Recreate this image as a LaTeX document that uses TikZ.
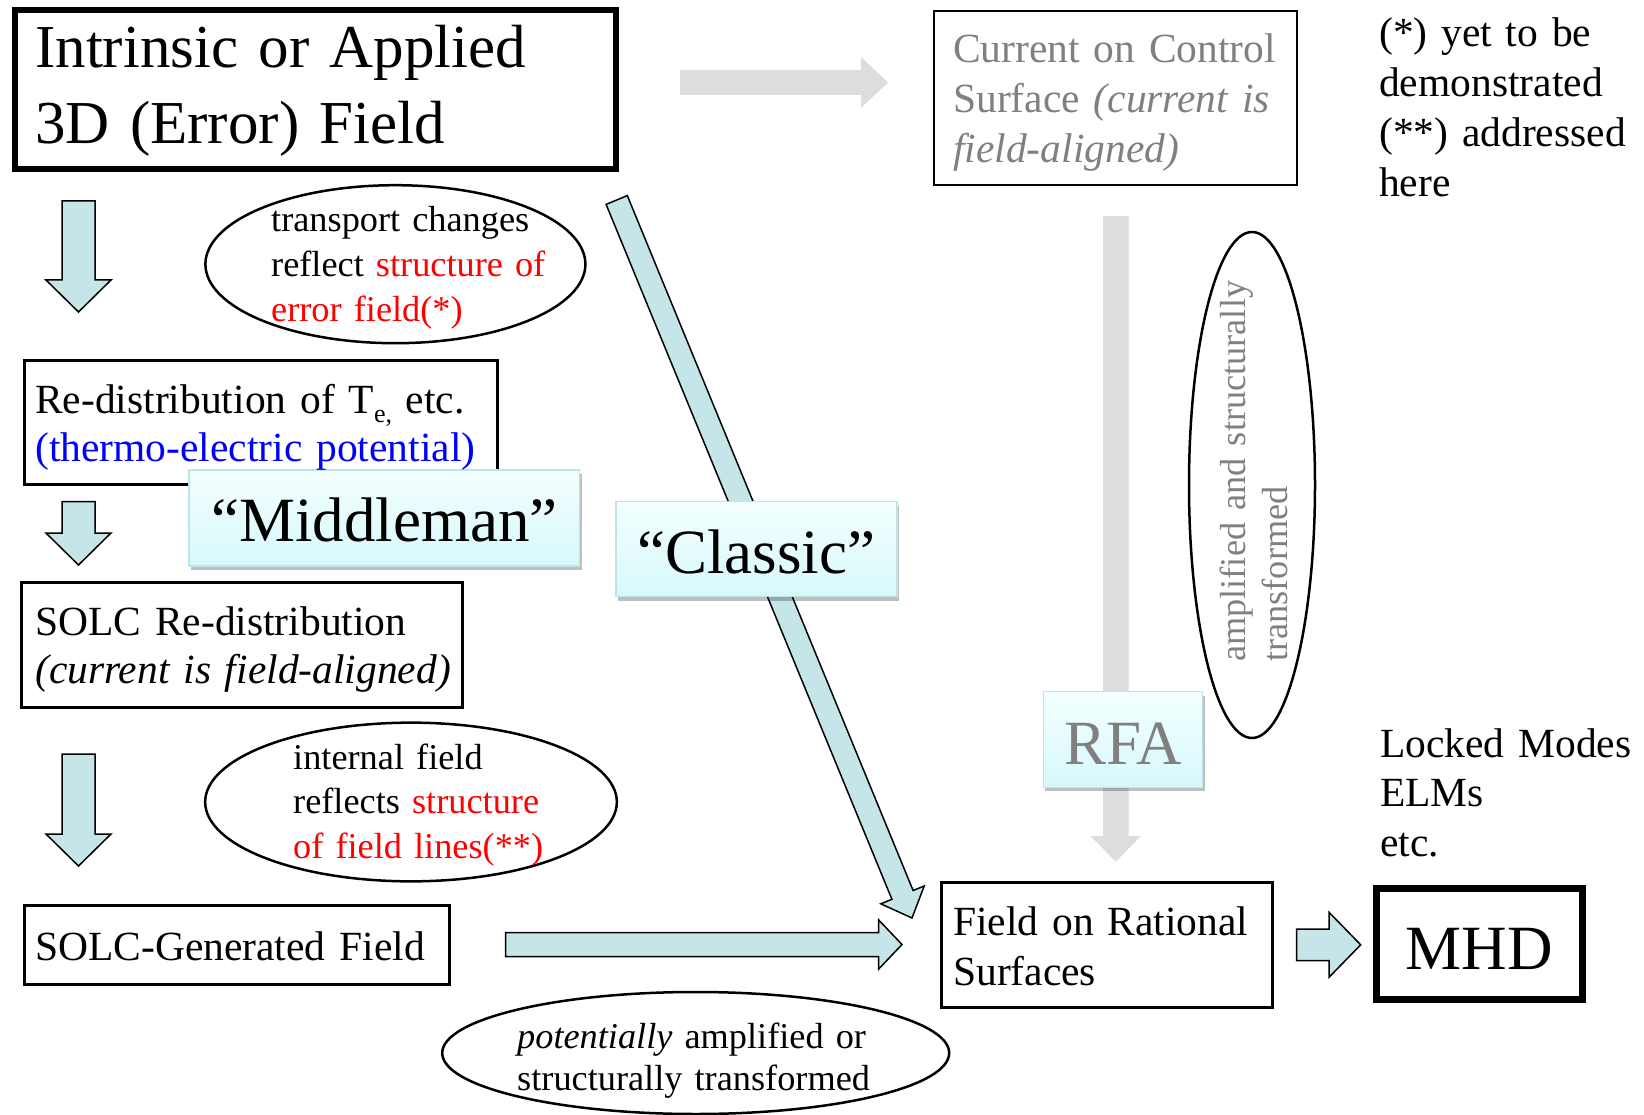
\documentclass[tikz,border=0pt]{standalone}
\usepackage{fontspec}
\setmainfont{Liberation Serif}
\usetikzlibrary{shapes.geometric,shadows}
\definecolor{arrblue}{RGB}{197,229,232}
\definecolor{arrgray}{RGB}{221,221,221}
\definecolor{txtgray}{RGB}{128,128,128}
\definecolor{lbltop}{RGB}{244,255,255}
\definecolor{lblbot}{RGB}{214,248,251}
\definecolor{lblborder}{RGB}{190,228,232}
\definecolor{redtxt}{RGB}{255,0,0}
\definecolor{bluetxt}{RGB}{0,0,255}
\newcommand\fsBox{\fontsize{41.5}{50}\selectfont}
\newcommand\fsBoxB{\fontsize{41.5}{48}\selectfont}
\newcommand\fsEll{\fontsize{36.3}{45}\selectfont}
\newcommand\fsBig{\fontsize{61}{76}\selectfont}
\newcommand\fsLbl{\fontsize{63}{72}\selectfont}
\begin{document}
\begin{tikzpicture}[x=1pt,y=-1pt,
  txt/.style={inner sep=0pt, anchor=base west, align=left, text width=600pt},
  box/.style={draw, line width=3pt, inner sep=0pt, minimum width=#1},
  ell/.style={draw, ellipse, line width=2.5pt, inner sep=0pt},
  blk/.style={fill=arrblue, draw=black, line width=1.5pt, line join=miter},
  gblk/.style={fill=arrgray, draw=none},
  lbl/.style={draw=lblborder, line width=1.5pt, top color=lbltop, bottom color=lblbot,
    inner sep=0pt, drop shadow={shadow xshift=2pt, shadow yshift=-4pt, fill=black, opacity=0.25}},
  lbltxt/.style={inner sep=0pt, anchor=base, font=\fsLbl}
]
\useasboundingbox (0,0) rectangle (1644,1115);

% gray arrows
\path[gblk] (680,70) -- (861,70) -- (861,57) -- (888,82.5) -- (861,108) -- (861,95) -- (680,95) -- cycle;
\path[gblk] (1103,216) -- (1128.5,216) -- (1128.5,836) -- (1141,836) -- (1115.75,861.7) -- (1090.5,836) -- (1103,836) -- cycle;

% boxes
\node[box=601pt, line width=6pt, minimum height=159pt] (title) at (315.5,89.5) {};
\node[box=362.6pt, line width=2.5pt, minimum height=173.6pt] (ctrl) at (1115.5,98) {};
\node[box=473pt, minimum height=124pt] (redist) at (260.5,422) {};
\node[box=441.5pt, minimum height=125pt] (solcr) at (241.8,644.5) {};
\node[box=425.5pt, minimum height=78.5pt] (solcg) at (236.8,944.8) {};
\node[box=330.5pt, minimum height=125pt] (frs) at (1107.2,944.5) {};
\node[box=206pt, line width=7pt, minimum height=111.3pt] (mhd) at (1479.2,944.2) {};

% ellipses
\node[ell, minimum width=380pt, minimum height=158pt] (e1) at (395.4,264.2) {};
\node[ell, minimum width=411.7pt, minimum height=158.7pt] (e2) at (411,802) {};
\node[ell, minimum width=507pt, minimum height=122pt] (e3) at (695.7,1053) {};
\node[ell, minimum width=126pt, minimum height=506pt] (e4) at (1252,485) {};

% blue block arrows
\path[blk] (62,201) -- (95,201) -- (95,280) -- (111,280) -- (78.5,312) -- (46,280) -- (62,280) -- cycle;
\path[blk] (62,501.7) -- (95,501.7) -- (95,533) -- (111,533) -- (78.5,565) -- (46,533) -- (62,533) -- cycle;
\path[blk] (62,754) -- (95,754) -- (95,834) -- (111,834) -- (78.5,866) -- (46,834) -- (62,834) -- cycle;
\path[blk] (505.5,932.5) -- (878.7,932.5) -- (878.7,920) -- (902,944.5) -- (878.7,969) -- (878.7,956.5) -- (505.5,956.5) -- cycle;
\path[blk] (1296.7,929) -- (1329,929) -- (1329,912.3) -- (1360.7,944.8) -- (1329,977.3) -- (1329,960.7) -- (1296.7,960.7) -- cycle;
\path[blk] (606.1,204.4) -- (627.3,195.6) -- (913.1,890.5) -- (924.2,886.0) -- (912,918) -- (880.8,903.8) -- (891.9,899.3) -- cycle;

% labels
\node[lbl, minimum width=390.6pt, minimum height=96pt] (mid) at (384.3,518) {};
\node[lbl, minimum width=281.3pt, minimum height=95pt] (cls) at (756.4,549.2) {};
\node[lbl, minimum width=159.4pt, minimum height=95.6pt] (rfa) at (1123,739.5) {};
\node[lbltxt] (midt) at (384.3,541.7) {“Middleman”};
\node[lbltxt] (clst) at (756.4,573.3) {“Classic”};
\node[lbltxt, text=txtgray] (rfat) at (1123,764) {RFA};

% texts
\node[txt, font=\fsBig] (titlet) at (35,68) {Intrinsic or Applied\\3D (Error) Field};
\node[txt, font=\fsBox, text=txtgray] (ctrlt) at (953,63) {Current on Control\\Surface \textit{(current is}\\\textit{field-aligned)}};
\node[txt, font=\fsBox] (notes) at (1379,47) {(*) yet to be\\demonstrated\\(**) addressed\\here};
\node[txt, font=\fsEll] (e1t) at (271,232) {transport changes\\reflect \textcolor{redtxt}{structure of}\\\textcolor{redtxt}{error field(*)}};
\node[txt, font=\fsBoxB] (redistt) at (35,413) {Re-distribution of T\raisebox{-9pt}{\fontsize{26}{26}\selectfont e,} etc.\\\textcolor{bluetxt}{(thermo-electric potential)}};
\node[txt, font=\fsBoxB] (solcrt) at (35,635) {SOLC Re-distribution\\\textit{(current is field-aligned)}};
\node[txt, font=\fontsize{36.3}{44.5}\selectfont] (e2t) at (293,769) {internal field\\reflects \textcolor{redtxt}{structure}\\\textcolor{redtxt}{of field lines(**)}};
\node[txt, font=\fsBox] (solcgt) at (35,960) {SOLC-Generated Field};
\node[txt, font=\fontsize{36.3}{42.5}\selectfont] (e3t) at (517,1048) {\textit{potentially} amplified or\\structurally transformed};
\node[txt, font=\fsBox] (frst) at (953,935) {Field on Rational\\Surfaces};
\node[txt, font=\fontsize{41.5}{49.5}\selectfont] (lockt) at (1380,757) {Locked Modes\\ELMs\\etc.};
\node[lbltxt] (mhdt) at (1479.2,969) {MHD};
\node[txt, rotate=90, font=\fontsize{36.3}{42}\selectfont, text=txtgray] (e4t) at (1245,662) {amplified and structurally\\transformed};
\end{tikzpicture}
\end{document}
